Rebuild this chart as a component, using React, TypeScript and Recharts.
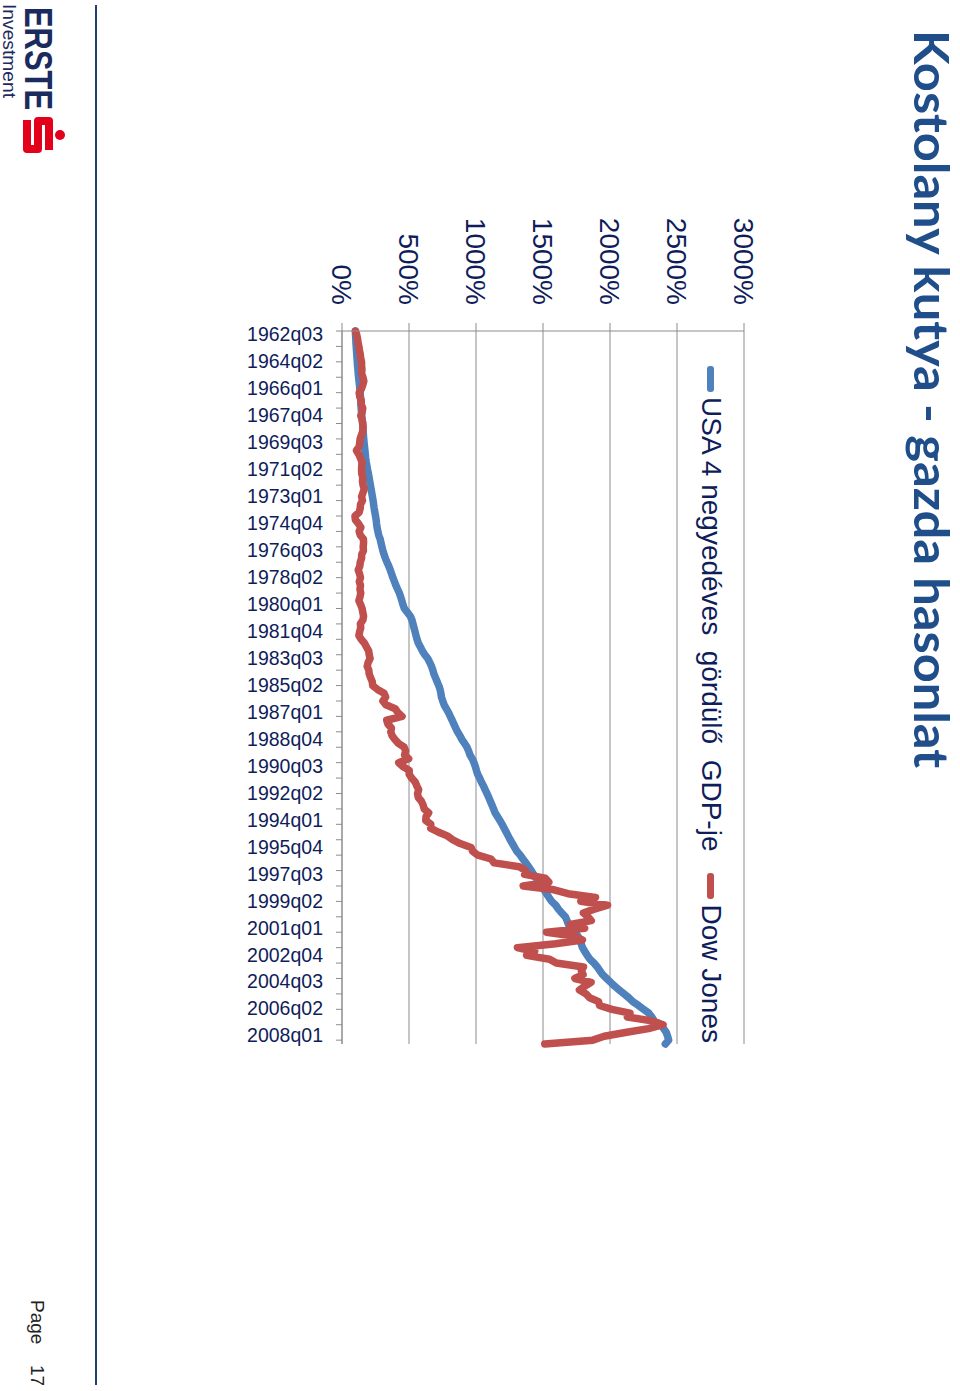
import React from 'react';
import { LineChart, Line, XAxis, YAxis, CartesianGrid, Legend } from 'recharts';

// ---- categories: quarterly periods 1962q03 .. 2008q04 ----
const START_YEAR = 1962;
const START_QUARTER = 3;
const PERIOD_COUNT = 186;
const categories: string[] = [];
for (let i = 0; i < PERIOD_COUNT; i++) {
  const t = START_QUARTER - 1 + i;
  categories.push(`${START_YEAR + Math.floor(t / 4)}q0${(t % 4) + 1}`);
}
const LABEL_EVERY = 7; // 1962q03, 1964q02, ... 2008q01
const TICK_EVERY = 4;

// ---- series values (%) ----
const gdp: number[] = [
  100, 101,
  103, 104, 106, 108,
  110, 112, 114, 116,
  119, 121, 124, 127,
  130, 133, 135, 138,
  140, 141, 143, 145,
  148, 151, 154, 156,
  158, 160, 162, 165,
  168, 171, 174, 177,
  181, 186, 191, 197,
  202, 207, 212, 217,
  222, 227, 232, 236,
  240, 245, 250, 255,
  258, 262, 268, 274,
  285, 291, 298, 305,
  314, 324, 336, 349,
  360, 370, 380, 391,
  402, 415, 428, 438,
  447, 455, 465, 488,
  510, 522, 530, 537,
  545, 552, 560, 570,
  585, 600, 618, 640,
  655, 668, 678, 686,
  698, 710, 722, 732,
  738, 742, 752, 762,
  778, 795, 808, 822,
  835, 848, 862, 880,
  895, 915, 933, 945,
  955, 972, 985, 995,
  1003, 1012, 1027, 1040,
  1055, 1068, 1082, 1095,
  1107, 1119, 1131, 1142,
  1160, 1178, 1195, 1210,
  1225, 1240, 1255, 1272,
  1288, 1305, 1330, 1350,
  1372, 1393, 1412, 1430,
  1450, 1470, 1490, 1508,
  1526, 1545, 1565, 1595,
  1615, 1640, 1667, 1680,
  1690, 1715, 1740, 1760,
  1775, 1785, 1795, 1812,
  1830, 1850, 1880, 1905,
  1925, 1945, 1975, 2005,
  2035, 2070, 2105, 2140,
  2170, 2212, 2250, 2290,
  2312, 2330, 2380, 2400,
  2420, 2430, 2438, 2413,
];

const dow: number[] = [
  100, 110,
  116, 120, 126, 130,
  136, 139, 146, 146,
  149, 146, 156, 163,
  155, 145, 128, 132,
  144, 143, 155, 151,
  140, 150, 155, 157,
  155, 145, 135, 132,
  128, 108, 125, 138,
  149, 147, 146, 147,
  155, 153, 157, 166,
  156, 146, 153, 138,
  136, 128, 97, 100,
  123, 141, 128, 137,
  160, 161, 158, 160,
  147, 146, 136, 133,
  121, 131, 138, 129,
  138, 134, 140, 134,
  126, 139, 150, 155,
  161, 156, 137, 140,
  132, 126, 143, 168,
  183, 199, 203, 210,
  195, 188, 200, 203,
  214, 226, 229, 265,
  314, 326, 305, 327,
  397, 417, 448, 334,
  343, 369, 364, 374,
  395, 421, 464, 475,
  467, 497, 423, 454,
  502, 501, 520, 546,
  558, 572, 564, 569,
  592, 606, 613, 647,
  627, 625, 663, 661,
  717, 786, 826, 882,
  963, 975, 1014, 1112,
  1135, 1323, 1370, 1363,
  1517, 1543, 1352, 1583,
  1687, 1892, 1782, 1982,
  1883, 1801, 1836, 1860,
  1703, 1811, 1526, 1728,
  1794, 1594, 1309, 1438,
  1378, 1549, 1599, 1802,
  1786, 1799, 1738, 1859,
  1811, 1772, 1822, 1848,
  1915, 1922, 2014, 2149,
  2130, 2312, 2396, 2287,
  2114, 1957, 1871, 1513,
];

const valueTicks: number[] = [0, 500, 1000, 1500, 2000, 2500, 3000];

const seriesNames = {
  gdp: 'USA 4 negyedéves  gördülő  GDP-je',
  dow: 'Dow Jones',
};

const data = categories.map((period, i) => ({ period, gdp: gdp[i], dow: dow[i] }));

// ---- styling ----
const PAGE_W = 1391;
const PAGE_H = 960;
const PLOT_BOTTOM = 618;
const BLUE = '#4F81BD';
const RED = '#C0504D';
const NAVY = '#0F1D5A';
const GRID = '#8C8C8C';
const FONT = '"Liberation Sans", Arial, sans-serif';

const CategoryTick = (props: any) => {
  const { x, payload } = props;
  const i: number = payload?.index ?? props.index ?? 0;
  return (
    <g>
      {i % TICK_EVERY === 0 && (
        <line x1={x} y1={PLOT_BOTTOM} x2={x} y2={PLOT_BOTTOM + 6} stroke={GRID} strokeWidth={1} />
      )}
      {i % LABEL_EVERY === 0 && (
        <text
          transform={`translate(${x},${PLOT_BOTTOM + 19}) rotate(-90)`}
          textAnchor="end"
          dy={10}
          fontSize={19.5}
          fontFamily={FONT}
          fill={NAVY}
        >
          {payload.value}
        </text>
      )}
    </g>
  );
};

const LegendContent = () => (
  <div
    style={{
      display: 'flex',
      alignItems: 'center',
      whiteSpace: 'pre',
      fontFamily: FONT,
      fontSize: 28,
      lineHeight: '34px',
      color: NAVY,
    }}
  >
    <span style={{ display: 'inline-block', width: 26, height: 7, background: BLUE, borderRadius: 3, marginRight: 5 }} />
    <span>{seriesNames.gdp}</span>
    <span style={{ display: 'inline-block', width: 26, height: 7, background: RED, borderRadius: 3, marginLeft: 22, marginRight: 5 }} />
    <span>{seriesNames.dow}</span>
  </div>
);

export default function App() {
  return (
    <div style={{ position: 'absolute', left: 0, top: 0, width: 960, height: 1391, overflow: 'hidden', background: '#fff' }}>
      <div
        style={{
          position: 'absolute',
          left: 0,
          top: 0,
          width: PAGE_W,
          height: PAGE_H,
          transformOrigin: '0 0',
          transform: 'translate(960px, 0px) rotate(90deg)',
          background: '#fff',
        }}
      >
        <div style={{ position: 'absolute', left: 0, top: 0 }}>
          <LineChart
            width={PAGE_W}
            height={PAGE_H}
            data={data}
            margin={{ top: 216, right: 347, bottom: 242, left: 231 }}
          >
            <CartesianGrid vertical={false} stroke={GRID} strokeWidth={1} />
            <XAxis
              dataKey="period"
              interval={0}
              height={100}
              axisLine={{ stroke: GRID, strokeWidth: 1 }}
              tickLine={false}
              tick={<CategoryTick />}
            />
            <YAxis
              domain={[0, 3000]}
              ticks={valueTicks}
              width={100}
              tickFormatter={(v: number) => `${v}%`}
              axisLine={{ stroke: GRID, strokeWidth: 1 }}
              tickLine={{ stroke: GRID, strokeWidth: 1 }}
              tickSize={8}
              tickMargin={18}
              tick={{ fontSize: 28, fontFamily: FONT, fill: NAVY }}
            />
            <Legend
              layout="horizontal"
              verticalAlign="middle"
              align="center"
              wrapperStyle={{ position: 'absolute', top: 232, left: 366, width: 'auto', height: 'auto' }}
              content={() => <LegendContent />}
            />
            <Line
              type="linear"
              dataKey="gdp"
              name={seriesNames.gdp}
              stroke={BLUE}
              strokeWidth={7.5}
              strokeLinejoin="round"
              strokeLinecap="round"
              dot={false}
              isAnimationActive={false}
            />
            <Line
              type="linear"
              dataKey="dow"
              name={seriesNames.dow}
              stroke={RED}
              strokeWidth={7.5}
              strokeLinejoin="round"
              strokeLinecap="round"
              dot={false}
              isAnimationActive={false}
            />
          </LineChart>
        </div>
        <svg
          width={PAGE_W}
          height={PAGE_H}
          style={{ position: 'absolute', left: 0, top: 0, pointerEvents: 'none' }}
        >
          <text
            x={30}
            y={46}
            fontFamily="Lato, 'Open Sans', sans-serif"
            fontWeight={700}
            fontSize={47}
            fill="#1F4E8A"
            textLength={738}
            lengthAdjust="spacingAndGlyphs"
          >
            Kostolany kutya - gazda hasonlat
          </text>
          <line x1={5} y1={864} x2={1385} y2={864} stroke="#1F3F77" strokeWidth={2} />
          <text
            x={7}
            y={935}
            fontFamily={FONT}
            fontWeight={700}
            fontSize={39}
            fill="#1B2B5E"
            textLength={103}
            lengthAdjust="spacingAndGlyphs"
          >
            ERSTE
          </text>
          <text
            x={4}
            y={957}
            fontFamily={FONT}
            fontSize={18}
            fill="#1B2B5E"
            textLength={94}
            lengthAdjust="spacingAndGlyphs"
          >
            Investment
          </text>
          <path
            d="M 150 911 L 121 911 L 121 922 L 149 922 L 149 933 L 120 933"
            fill="none"
            stroke="#E2001A"
            strokeWidth={8}
            strokeLinejoin="round"
          />
          <circle cx={135} cy={900} r={5} fill="#E2001A" />
          <text x={1300} y={929} fontFamily={FONT} fontSize={19} fill="#222">Page</text>
          <text x={1365} y={929} fontFamily={FONT} fontSize={19} fill="#222">17</text>
        </svg>
      </div>
    </div>
  );
}
